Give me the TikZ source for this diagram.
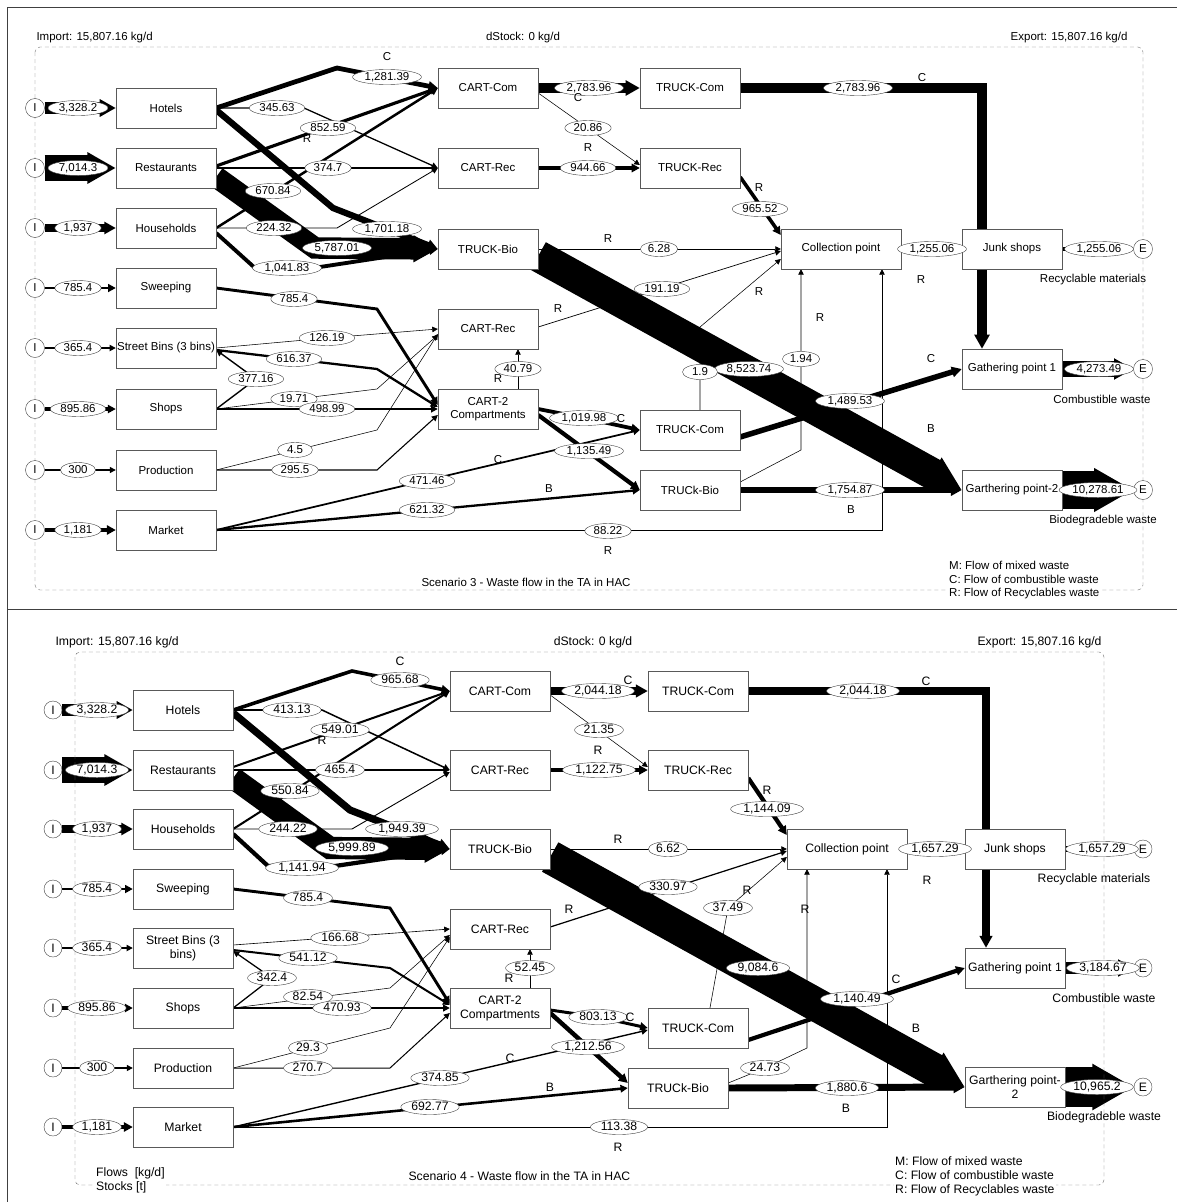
\documentclass[tikz,border=0pt]{standalone}
\usepackage{fontspec}
\setmainfont{Liberation Sans}
\usetikzlibrary{arrows.meta,shapes.geometric,positioning}
\pgfdeclarelayer{flows}
\pgfsetlayers{flows,main}
\tikzset{
  proc/.style={draw=black!65, fill=white, minimum width=100pt, minimum height=40pt, inner sep=1pt, align=center},
  amt/.style={ellipse, draw=black!75, fill=white, inner xsep=2pt, inner ysep=0pt, minimum width=35pt, minimum height=15pt, text height=8pt, text depth=1.7pt},
  port/.style={circle, draw=black!75, fill=white, minimum size=19pt, inner sep=0pt},
  ltr/.style={inner sep=1pt},
  mflow/.style={line width={max(#1/270,0.55)*1pt}, -{Triangle[length=5pt 0.9, width=5pt 0.95]}},
  sysb/.style={draw=black!55, dash pattern=on 4pt off 3pt, rounded corners=5pt},
  outline/.style={draw=black!75, line width=0.9pt}
}
\begin{document}
\begin{tikzpicture}[x=1pt, y=-1pt]
  \useasboundingbox (0,0) rectangle (1177,1202);
  % page frame
  \draw[outline] (7,1202) -- (7,7) -- (1177,7);
  \draw[outline] (7,609) -- (1177,609);

  %%% Scenario 3
  \begin{scope}[font=\fontsize{11.5}{13.5}\selectfont]
  % System boundary
  \draw[sysb] (35,47) rectangle (1143,590);
  \node[anchor=west] (impA) at (33,38) {Import: 15,807.16 kg/d};
  \node (dstA) at (523,38) {dStock: 0 kg/d};
  \node[anchor=east] (expA) at (1131,38) {Export: 15,807.16 kg/d};
  % Import points
  \foreach \n/\y in {1/108,2/168,3/228,4/288,5/348,6/409,7/470,8/530}
    \node[port] (i\n) at (35,\y) {I};
  % Sources
  \node[proc] (hot) at (166,108) {Hotels};
  \node[proc] (res) at (166,168) {Restaurants};
  \node[proc] (hou) at (166,228) {Households};
  \node[proc] (swe) at (166,288) {Sweeping};
  \node[proc] (sbin) at (166,348) {Street Bins (3 bins)};
  \node[proc] (sho) at (166,409) {Shops};
  \node[proc] (pro) at (166,470) {Production};
  \node[proc] (mar) at (166,530) {Market};
  % Carts and trucks
  \node[proc] (ccom) at (488,88) {CART-Com};
  \node[proc] (crec) at (488,168) {CART-Rec};
  \node[proc] (tbio) at (488,249) {TRUCK-Bio};
  \node[proc] (crec2) at (488,329) {CART-Rec};
  \node[proc] (cart2) at (488,409) {CART-2\\Compartments};
  \node[proc] (tcom) at (690,88) {TRUCK-Com};
  \node[proc] (trec) at (690,168) {TRUCK-Rec};
  \node[proc] (tcom2) at (690,430) {TRUCK-Com};
  \node[proc] (tbio2) at (690,490) {TRUCk-Bio};
  % Collection and export
  \node[proc, minimum width=120pt] (col) at (841,249) {Collection point};
  \node[proc] (junk) at (1012,249) {Junk shops};
  \node[proc] (gp1) at (1012,369) {Gathering point 1};
  \node[proc] (gp2) at (1012,490) {Garthering point-2};
  \node[port] (e1) at (1143,249) {E};
  \node[port] (e2) at (1143,369) {E};
  \node[port] (e3) at (1143,490) {E};
  \node (outA1) at (1093,280) {Recyclable materials};
  \node (outA2) at (1102,399) {Combustible waste};
  \node (outA3) at (1103,521) {Biodegradeble waste};
  % Flow values
  \node[amt] (l1) at (78,108) {3,328.2};
  \node[amt] (l2) at (78,168) {7,014.3};
  \node[amt] (l3) at (78,228) {1,937};
  \node[amt] (l4) at (78,288) {785.4};
  \node[amt] (l5) at (78,348) {365.4};
  \node[amt] (l6) at (78,409) {895.86};
  \node[amt] (l7) at (78,470) {300};
  \node[amt] (l8) at (78,530) {1,181};
  \node[amt] (l9) at (387,77) {1,281.39};
  \node[amt] (l10) at (277,108) {345.63};
  \node[amt] (l11) at (387,229) {1,701.18};
  \node[amt] (l12) at (328,128) {852.59};
  \node[amt] (l13) at (328,168) {374.7};
  \node[amt] (l14) at (337,248) {5,787.01};
  \node[amt] (l15) at (273,191) {670.84};
  \node[amt] (l16) at (274,228) {224.32};
  \node[amt] (l17) at (287,268) {1,041.83};
  \node[amt] (l18) at (294,299) {785.4};
  \node[amt] (l19) at (327,338) {126.19};
  \node[amt] (l20) at (294,359) {616.37};
  \node[amt] (l21) at (256,379) {377.16};
  \node[amt] (l22) at (294,399) {19.71};
  \node[amt] (l23) at (327,409) {498.99};
  \node[amt] (l24) at (295,450) {4.5};
  \node[amt] (l25) at (295,470) {295.5};
  \node[amt] (l26) at (427,481) {471.46};
  \node[amt] (l27) at (427,510) {621.32};
  \node[amt] (l28) at (608,531) {88.22};
  \node[amt] (l29) at (589,88) {2,783.96};
  \node[amt] (l30) at (588,128) {20.86};
  \node[amt] (l31) at (588,168) {944.66};
  \node[amt] (l32) at (659,249) {6.28};
  \node[amt] (l33) at (749,369) {8,523.74};
  \node[amt] (l34) at (662,289) {191.19};
  \node[amt] (l35) at (518,369) {40.79};
  \node[amt] (l36) at (584,418) {1,019.98};
  \node[amt] (l37) at (589,451) {1,135.49};
  \node[amt] (l38) at (858,88) {2,783.96};
  \node[amt] (l39) at (760,209) {965.52};
  \node[amt] (l40) at (850,401) {1,489.53};
  \node[amt] (l41) at (700,372) {1.9};
  \node[amt] (l42) at (850,490) {1,754.87};
  \node[amt] (l43) at (801,359) {1.94};
  \node[amt] (l44) at (932,249) {1,255.06};
  \node[amt] (l45) at (1099,249) {1,255.06};
  \node[amt] (l46) at (1099,369) {4,273.49};
  \node[amt] (l47) at (1098,490) {10,278.61};
  % Waste type letters
  \node[ltr] (ta1) at (387,57) {C};
  \node[ltr] (ta2) at (307,139) {R};
  \node[ltr] (ta3) at (578,98) {C};
  \node[ltr] (ta4) at (588,148) {R};
  \node[ltr] (ta5) at (608,239) {R};
  \node[ltr] (ta6) at (759,188) {R};
  \node[ltr] (ta7) at (922,78) {C};
  \node[ltr] (ta8) at (921,280) {R};
  \node[ltr] (ta9) at (558,309) {R};
  \node[ltr] (ta10) at (498,379) {R};
  \node[ltr] (ta11) at (621,419) {C};
  \node[ltr] (ta12) at (498,460) {C};
  \node[ltr] (ta13) at (549,489) {B};
  \node[ltr] (ta14) at (759,292) {R};
  \node[ltr] (ta15) at (820,318) {R};
  \node[ltr] (ta16) at (931,359) {C};
  \node[ltr] (ta17) at (931,429) {B};
  \node[ltr] (ta18) at (851,510) {B};
  \node[ltr] (ta19) at (608,551) {R};
  % Captions
  \node[anchor=west] (scA) at (418,582) {Scenario 3 - Waste flow in the TA in HAC};
  \node[anchor=north west, align=left, fill=white, inner sep=1pt] (legA) at (948,560)
    {M: Flow of mixed waste\\C: Flow of combustible waste\\R: Flow of Recyclables waste};

  \begin{pgfonlayer}{flows}
    % import flows
    \draw[mflow=3328] (i1) -- (hot);
    \draw[mflow=7014] (i2) -- (res);
    \draw[mflow=1937] (i3) -- (hou);
    \draw[mflow=785] (i4) -- (swe);
    \draw[mflow=365] (i5) -- (sbin);
    \draw[mflow=896] (i6) -- (sho);
    \draw[mflow=300] (i7) -- (pro);
    \draw[mflow=1181] (i8) -- (mar);
    % sources to carts and trucks
    \draw[mflow=1281] (hot.east) -- (337,68) -- (ccom.west);
    \draw[mflow=346] (hot.east) -- (304,108) -- (crec.west);
    \draw[mflow=1701] ([yshift=-2pt]hot.east) -- (333,208) -- (tbio.west);
    \draw[mflow=853] ([yshift=2pt]res.east) -- (ccom.west);
    \draw[mflow=375] (res.east) -- (crec.west);
    \draw[mflow=5787] ([yshift=-9pt]res.east) -- (315,248) -- (tbio.west);
    \draw[mflow=671] (hou.east) -- (ccom.west);
    \draw[mflow=224] (hou.east) -- (337,228) -- (crec.west);
    \draw[mflow=1042] ([yshift=-5pt]hou.east) -- (255,268) -- (320,267) -- (tbio.west);
    \draw[mflow=785] (swe.east) -- (377,309) -- ([yshift=4pt]cart2.west);
    \draw[mflow=126] (sbin.east) -- (327,338) -- (crec2.west);
    \draw[mflow=616] ([yshift=-2pt]sbin.east) -- (377,369) -- ([yshift=2pt]cart2.west);
    \draw[mflow=377] (sho.east) -- (256,379) -- ([yshift=-2pt]sbin.east);
    \draw[mflow=20] (sho.east) -- (377,389) -- ([yshift=-6pt]crec2.west);
    \draw[mflow=499] (sho.east) -- (cart2.west);
    \draw[mflow=5] (pro.east) -- (377,430) -- ([yshift=-5pt]crec2.west);
    \draw[mflow=296] (pro.east) -- (377,470) -- ([yshift=-6pt]cart2.west);
    \draw[mflow=471] (mar.east) -- (tcom2.west);
    \draw[mflow=621] (mar.east) -- (tbio2.west);
    \draw[mflow=88] (mar.east) -- (882,530) -- ([xshift=41pt]col.south);
    % carts to trucks
    \draw[mflow=2784] (ccom) -- (tcom);
    \draw[mflow=21] ([yshift=-5pt]ccom.east) -- ([yshift=3pt]trec.west);
    \draw[mflow=945] (crec) -- (trec);
    \draw[mflow=6] (tbio) -- (col);
    \draw[mflow=8524] ([yshift=-7pt]tbio.east) -- (gp2.west);
    \draw[mflow=191] ([yshift=2pt]crec2.east) -- ([yshift=-2pt]col.west);
    \draw[mflow=41] ([xshift=30pt]cart2.north) -- ([xshift=30pt]crec2.south);
    \draw[mflow=1020] (cart2.east) -- (584,418) -- (tcom2.west);
    \draw[mflow=1135] ([yshift=-6pt]cart2.east) -- (tbio2.west);
    % trucks to collection and gathering
    \draw[mflow=2784] (tcom.east) -- (982,88) -- ([xshift=-30pt]gp1.north);
    \draw[mflow=966] ([yshift=-9pt]trec.east) -- ([yshift=14pt]col.west);
    \draw[mflow=1490] ([yshift=-7pt]tcom2.east) -- (gp1.west);
    \draw[mflow=2] ([xshift=10pt]tcom2.north) -- (700,327) -- ([yshift=-10pt]col.west);
    \draw[mflow=1755] (tbio2.east) -- (gp2.west);
    \draw[mflow=2] ([yshift=8pt]tbio2.east) -- (801,450) -- ([xshift=-40pt]col.south);
    \draw[mflow=1255] (col) -- (junk);
    % exports
    \draw[mflow=1255] (junk) -- (e1);
    \draw[mflow=4273] (gp1) -- (e2);
    \draw[mflow=10279] (gp2) -- (e3);
  \end{pgfonlayer}
  \end{scope}

  %%% Scenario 4
  \begin{scope}[font=\fontsize{12.2}{14}\selectfont, port/.append style={minimum size=18pt}]
  % System boundary
  \draw[sysb] (75,652) rectangle (1104,1185);
  \node[anchor=west] (impB) at (52,642) {Import: 15,807.16 kg/d};
  \node (dstB) at (593,642) {dStock: 0 kg/d};
  \node[anchor=east] (expB) at (1105,642) {Export: 15,807.16 kg/d};
  % Import points
  \foreach \n/\y in {1/710,2/770,3/829,4/889,5/948,6/1008,7/1068,8/1127}
    \node[port] (bi\n) at (53,\y) {I};
  % Sources
  \node[proc] (bhot) at (183,710) {Hotels};
  \node[proc] (bres) at (183,770) {Restaurants};
  \node[proc] (bhou) at (183,829) {Households};
  \node[proc] (bswe) at (183,889) {Sweeping};
  \node[proc] (bsbin) at (183,948) {Street Bins (3\\bins)};
  \node[proc] (bsho) at (183,1008) {Shops};
  \node[proc] (bpro) at (183,1068) {Production};
  \node[proc] (bmar) at (183,1127) {Market};
  % Carts and trucks
  \node[proc] (bccom) at (500,691) {CART-Com};
  \node[proc] (bcrec) at (500,770) {CART-Rec};
  \node[proc] (btbio) at (500,849) {TRUCK-Bio};
  \node[proc] (bcrec2) at (500,929) {CART-Rec};
  \node[proc] (bcart2) at (500,1008) {CART-2\\Compartments};
  \node[proc] (btcom) at (698,691) {TRUCK-Com};
  \node[proc] (btrec) at (698,770) {TRUCK-Rec};
  \node[proc] (btcom2) at (698,1028) {TRUCK-Com};
  \node[proc] (btbio2) at (678,1088) {TRUCk-Bio};
  % Collection and export
  \node[proc, minimum width=120pt] (bcol) at (847,849) {Collection point};
  \node[proc] (bjunk) at (1015,849) {Junk shops};
  \node[proc] (bgp1) at (1015,968) {Gathering point 1};
  \node[proc] (bgp2) at (1015,1087) {Garthering point-\\2};
  \node[port] (be1) at (1143,849) {E};
  \node[port] (be2) at (1143,968) {E};
  \node[port] (be3) at (1143,1087) {E};
  \node (outB1) at (1094,879) {Recyclable materials};
  \node (outB2) at (1104,998) {Combustible waste};
  \node (outB3) at (1104,1117) {Biodegradeble waste};
  % Flow values
  \node[amt] (m1) at (97,710) {3,328.2};
  \node[amt] (m2) at (97,770) {7,014.3};
  \node[amt] (m3) at (97,829) {1,937};
  \node[amt] (m4) at (97,889) {785.4};
  \node[amt] (m5) at (97,948) {365.4};
  \node[amt] (m6) at (97,1008) {895.86};
  \node[amt] (m7) at (97,1068) {300};
  \node[amt] (m8) at (97,1127) {1,181};
  \node[amt] (m9) at (400,680) {965.68};
  \node[amt] (m10) at (292,710) {413.13};
  \node[amt] (m11) at (402,829) {1,949.39};
  \node[amt] (m12) at (340,730) {549.01};
  \node[amt] (m13) at (340,770) {465.4};
  \node[amt] (m14) at (352,848) {5,999.89};
  \node[amt] (m15) at (290,791) {550.84};
  \node[amt] (m16) at (288,829) {244.22};
  \node[amt] (m17) at (302,868) {1,141.94};
  \node[amt] (m18) at (308,898) {785.4};
  \node[amt] (m19) at (340,938) {166.68};
  \node[amt] (m20) at (308,958) {541.12};
  \node[amt] (m21) at (272,978) {342.4};
  \node[amt] (m22) at (308,997) {82.54};
  \node[amt] (m23) at (342,1008) {470.93};
  \node[amt] (m24) at (308,1048) {29.3};
  \node[amt] (m25) at (308,1068) {270.7};
  \node[amt] (m26) at (440,1078) {374.85};
  \node[amt] (m27) at (430,1107) {692.77};
  \node[amt] (m28) at (619,1127) {113.38};
  \node[amt] (m29) at (598,691) {2,044.18};
  \node[amt] (m30) at (599,730) {21.35};
  \node[amt] (m31) at (599,770) {1,122.75};
  \node[amt] (m32) at (668,849) {6.62};
  \node[amt] (m33) at (758,968) {9,084.6};
  \node[amt] (m34) at (668,887) {330.97};
  \node[amt] (m35) at (530,968) {52.45};
  \node[amt] (m36) at (598,1017) {803.13};
  \node[amt] (m37) at (588,1047) {1,212.56};
  \node[amt] (m38) at (863,691) {2,044.18};
  \node[amt] (m39) at (767,809) {1,144.09};
  \node[amt] (m40) at (857,999) {1,140.49};
  \node[amt] (m41) at (728,908) {37.49};
  \node[amt] (m42) at (847,1088) {1,880.6};
  \node[amt] (m43) at (765,1068) {24.73};
  \node[amt] (m44) at (935,849) {1,657.29};
  \node[amt] (m45) at (1102,849) {1,657.29};
  \node[amt] (m46) at (1103,968) {3,184.67};
  \node[amt] (m47) at (1097,1087) {10,965.2};
  % Waste type letters
  \node[ltr] (tb1) at (400,661) {C};
  \node[ltr] (tb2) at (322,740) {R};
  \node[ltr] (tb3) at (628,680) {C};
  \node[ltr] (tb4) at (598,750) {R};
  \node[ltr] (tb5) at (618,839) {R};
  \node[ltr] (tb6) at (767,790) {R};
  \node[ltr] (tb7) at (926,681) {C};
  \node[ltr] (tb8) at (927,880) {R};
  \node[ltr] (tb9) at (569,909) {R};
  \node[ltr] (tb10) at (509,978) {R};
  \node[ltr] (tb11) at (630,1017) {C};
  \node[ltr] (tb12) at (510,1058) {C};
  \node[ltr] (tb13) at (550,1087) {B};
  \node[ltr] (tb14) at (747,890) {R};
  \node[ltr] (tb15) at (805,909) {R};
  \node[ltr] (tb16) at (896,979) {C};
  \node[ltr] (tb17) at (916,1028) {B};
  \node[ltr] (tb18) at (846,1108) {B};
  \node[ltr] (tb19) at (618,1147) {R};
  % Captions
  \node[anchor=west, align=left, fill=white, inner sep=1pt] (unitB) at (95,1180) {Flows\ \ [kg/d]\\Stocks [t]};
  \node[anchor=west] (scB) at (405,1176) {Scenario 4 - Waste flow in the TA in HAC};
  \node[anchor=north west, align=left, fill=white, inner sep=1pt] (legB) at (894,1155)
    {M: Flow of mixed waste\\C: Flow of combustible waste\\R: Flow of Recyclables waste};

  \begin{pgfonlayer}{flows}
    % import flows
    \draw[mflow=3328] (bi1) -- (bhot);
    \draw[mflow=7014] (bi2) -- (bres);
    \draw[mflow=1937] (bi3) -- (bhou);
    \draw[mflow=785] (bi4) -- (bswe);
    \draw[mflow=365] (bi5) -- (bsbin);
    \draw[mflow=896] (bi6) -- (bsho);
    \draw[mflow=300] (bi7) -- (bpro);
    \draw[mflow=1181] (bi8) -- (bmar);
    % sources to carts and trucks
    \draw[mflow=966] (bhot.east) -- (352,671) -- (bccom.west);
    \draw[mflow=413] (bhot.east) -- (322,710) -- (bcrec.west);
    \draw[mflow=1949] ([yshift=-3pt]bhot.east) -- (350,810) -- (btbio.west);
    \draw[mflow=549] ([yshift=3pt]bres.east) -- (bccom.west);
    \draw[mflow=465] (bres) -- (bcrec);
    \draw[mflow=6000] ([yshift=-8pt]bres.east) -- (330,848) -- (btbio.west);
    \draw[mflow=551] (bhou.east) -- (bccom.west);
    \draw[mflow=244] (bhou.east) -- (352,829) -- ([yshift=-2pt]bcrec.west);
    \draw[mflow=1142] ([yshift=-5pt]bhou.east) -- (268,866) -- (335,866) -- (btbio.west);
    \draw[mflow=785] (bswe.east) -- (390,908) -- ([yshift=4pt]bcart2.west);
    \draw[mflow=167] ([yshift=3pt]bsbin.east) -- (bcrec2.west);
    \draw[mflow=541] ([yshift=-2pt]bsbin.east) -- (390,968) -- ([yshift=3pt]bcart2.west);
    \draw[mflow=342] (bsho.east) -- (272,978) -- ([yshift=-3pt]bsbin.east);
    \draw[mflow=83] (bsho.east) -- (390,988) -- ([yshift=-6pt]bcrec2.west);
    \draw[mflow=471] (bsho) -- (bcart2);
    \draw[mflow=29] (bpro.east) -- (390,1028) -- ([yshift=-8pt]bcrec2.west);
    \draw[mflow=271] (bpro.east) -- (390,1068) -- ([yshift=-5pt]bcart2.west);
    \draw[mflow=375] (bmar.east) -- ([yshift=-2pt]btcom2.west);
    \draw[mflow=693] (bmar.east) -- (btbio2.west);
    \draw[mflow=113] (bmar.east) -- (887,1127) -- ([xshift=40pt]bcol.south);
    % carts to trucks
    \draw[mflow=2044] (bccom) -- (btcom);
    \draw[mflow=21] ([yshift=-4pt]bccom.east) -- ([yshift=3pt]btrec.west);
    \draw[mflow=1123] (bcrec) -- (btrec);
    \draw[mflow=7] (btbio) -- (bcol);
    \draw[mflow=9085] ([yshift=-8pt]btbio.east) -- (bgp2.west);
    \draw[mflow=331] ([yshift=2pt]bcrec2.east) -- ([yshift=-2pt]bcol.west);
    \draw[mflow=52] ([xshift=30pt]bcart2.north) -- ([xshift=30pt]bcrec2.south);
    \draw[mflow=803] ([yshift=-2pt]bcart2.east) -- (598,1017) -- (btcom2.west);
    \draw[mflow=1213] ([yshift=-5pt]bcart2.east) -- ([yshift=5pt]btbio2.west);
    % trucks to collection and gathering
    \draw[mflow=2044] (btcom.east) -- (986,691) -- ([xshift=-29pt]bgp1.north);
    \draw[mflow=1144] ([yshift=-8pt]btrec.east) -- ([yshift=14pt]bcol.west);
    \draw[mflow=1140] ([yshift=-12pt]btcom2.east) -- (bgp1.west);
    \draw[mflow=37] ([xshift=12pt]btcom2.north) -- (728,908) -- ([yshift=-8pt]bcol.west);
    \draw[mflow=1881] (btbio2.east) -- (bgp2.west);
    \draw[mflow=25] ([yshift=5pt]btbio2.east) -- (765,1068) -- (807,1048) -- ([xshift=-40pt]bcol.south);
    \draw[mflow=1657] (bcol) -- (bjunk);
    % exports
    \draw[mflow=1657] (bjunk) -- (be1);
    \draw[mflow=3185] (bgp1) -- (be2);
    \draw[mflow=10965] (bgp2) -- (be3);
  \end{pgfonlayer}
  \end{scope}
\end{tikzpicture}
\end{document}
